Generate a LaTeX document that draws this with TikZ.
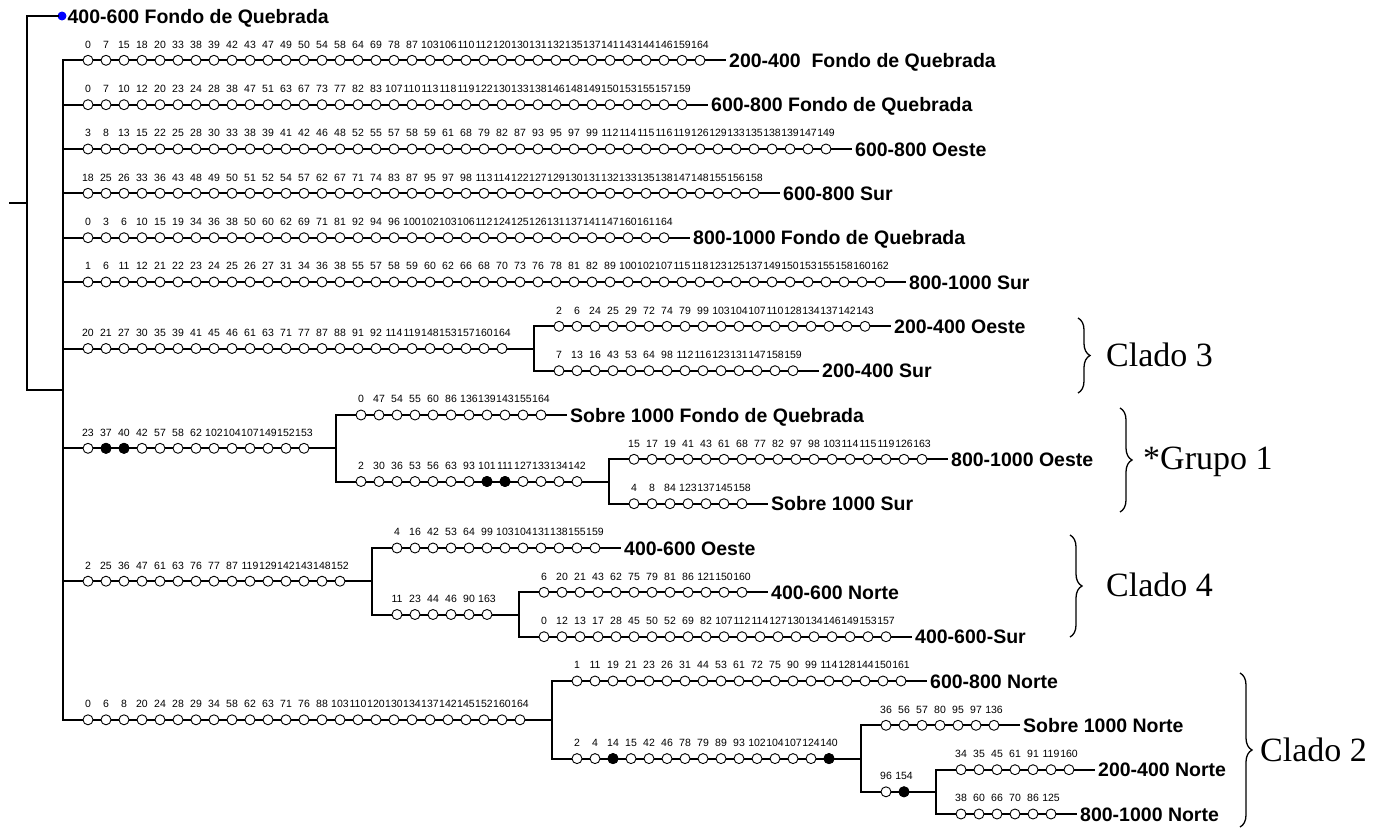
\documentclass[tikz,border=0pt]{standalone}
\usepackage{fontspec}
\setmainfont{Liberation Serif}
\newfontfamily\taxfont{Liberation Sans}
\usetikzlibrary{backgrounds,decorations.pathreplacing}

\tikzset{
	dot/.style={circle, draw, fill=white, line width=0.9pt, minimum size=10pt, inner sep=0pt},
	dotf/.style={dot, fill=black},
	num/.style={font=\taxfont\fontsize{10.5}{12}\selectfont, inner sep=0pt, text height=7.6pt, text depth=0pt},
	tax/.style={font=\taxfont\bfseries\fontsize{19.5}{22}\selectfont, anchor=west, inner sep=0pt, inner xsep=4pt, text height=14pt, text depth=0pt},
	branch/.style={line width=2pt, line cap=rect},
	clado/.style={font=\fontsize{34}{37}\selectfont, anchor=west, inner sep=0pt},
	curly/.style={decorate, decoration={brace, amplitude=12pt}, line width=1.3pt}
}

\newcommand{\dotrow}[3]{%
	\foreach \v [count=\i] in {#3} {
		\node[dot] (#1-\i) at ([xshift={(7+18*\i)*1pt}]#2) {};
		\node[num] (#1-\i n) at ([yshift=16pt]#1-\i) {\v};
		\xdef\lastdot{\i}
	}
}
\newcommand{\leafrow}[4]{%
	\dotrow{#1}{#2}{#3}
	\node[tax] (#1) at ([xshift=25pt]#1-\lastdot) {#4};
	\begin{scope}[on background layer]
		\draw[branch] (#2) -- (#1.west);
	\end{scope}
}
\newcommand{\branchrow}[3]{%
	\dotrow{#1}{#2}{#3}
	\coordinate (#1e) at ([xshift=32pt]#1-\lastdot);
	\begin{scope}[on background layer]
		\draw[branch] (#2) -- (#1e);
	\end{scope}
}

\begin{document}
\begin{tikzpicture}[x=1pt, y=-1pt]
	\useasboundingbox (0,0) rectangle (1381,830);

	\coordinate (rstub) at (10,203);
	\coordinate (root) at (27,203);
	\coordinate (main) at (63,390);
	\node[dot, fill=blue, draw=blue, minimum size=8pt] (q0) at (62,16) {};
	\node[tax, inner xsep=1pt] (t0) at (q0.east) {400-600 Fondo de Quebrada};
	\coordinate (rtop) at (root |- q0);
	\draw[branch] (rstub) -- (root);
	\draw[branch] (q0) -- (rtop) -- (root |- main) -- (main);

	\coordinate (t1s) at (main |- 0,60.3);
	\coordinate (t2s) at (main |- 0,104.7);
	\coordinate (t3s) at (main |- 0,149);
	\coordinate (t4s) at (main |- 0,193.3);
	\coordinate (t5s) at (main |- 0,237.7);
	\coordinate (t6s) at (main |- 0,282);
	\coordinate (c3s) at (main |- 0,348.5);
	\coordinate (g1s) at (main |- 0,448.3);
	\coordinate (c4s) at (main |- 0,581.2);
	\coordinate (c2s) at (main |- 0,719.8);
	\draw[branch] (t1s) -- (c2s);

	\leafrow{t1}{t1s}{0,7,15,18,20,33,38,39,42,43,47,49,50,54,58,64,69,78,87,103,106,110,112,120,130,131,132,135,137,141,143,144,146,159,164}{200-400\ \ Fondo de Quebrada}
	\leafrow{t2}{t2s}{0,7,10,12,20,23,24,28,38,47,51,63,67,73,77,82,83,107,110,113,118,119,122,130,133,138,146,148,149,150,153,155,157,159}{600-800 Fondo de Quebrada}
	\leafrow{t3}{t3s}{3,8,13,15,22,25,28,30,33,38,39,41,42,46,48,52,55,57,58,59,61,68,79,82,87,93,95,97,99,112,114,115,116,119,126,129,133,135,138,139,147,149}{600-800 Oeste}
	\leafrow{t4}{t4s}{18,25,26,33,36,43,48,49,50,51,52,54,57,62,67,71,74,83,87,95,97,98,113,114,122,127,129,130,131,132,133,135,138,147,148,155,156,158}{600-800 Sur}
	\leafrow{t5}{t5s}{0,3,6,10,15,19,34,36,38,50,60,62,69,71,81,92,94,96,100,102,103,106,112,124,125,126,131,137,141,147,160,161,164}{800-1000 Fondo de Quebrada}
	\leafrow{t6}{t6s}{1,6,11,12,21,22,23,24,25,26,27,31,34,36,38,55,57,58,59,60,62,66,68,70,73,76,78,81,82,89,100,102,107,115,118,123,125,137,149,150,153,155,158,160,162}{800-1000 Sur}

	\branchrow{c3}{c3s}{20,21,27,30,35,39,41,45,46,61,63,71,77,87,88,91,92,114,119,148,153,157,160,164}
	\coordinate (t7s) at (c3e |- 0,326.3);
	\coordinate (t8s) at (c3e |- 0,370.7);
	\leafrow{t7}{t7s}{2,6,24,25,29,72,74,79,99,103,104,107,110,128,134,137,142,143}{200-400 Oeste}
	\leafrow{t8}{t8s}{7,13,16,43,53,64,98,112,116,123,131,147,158,159}{200-400 Sur}
	\draw[branch] (t7s) -- (t8s);

	\branchrow{g1}{g1s}{23,37,40,42,57,58,62,102,104,107,149,152,153}
	\coordinate (t9s) at (g1e |- 0,415);
	\coordinate (g2s) at (g1e |- 0,481.5);
	\leafrow{t9}{t9s}{0,47,54,55,60,86,136,139,143,155,164}{Sobre 1000 Fondo de Quebrada}
	\branchrow{g2}{g2s}{2,30,36,53,56,63,93,101,111,127,133,134,142}
	\coordinate (t10s) at (g2e |- 0,459.3);
	\coordinate (t11s) at (g2e |- 0,503.7);
	\leafrow{t10}{t10s}{15,17,19,41,43,61,68,77,82,97,98,103,114,115,119,126,163}{800-1000 Oeste}
	\leafrow{t11}{t11s}{4,8,84,123,137,145,158}{Sobre 1000 Sur}
	\draw[branch] (t9s) -- (g2s);
	\draw[branch] (t10s) -- (t11s);

	\branchrow{c4}{c4s}{2,25,36,47,61,63,76,77,87,119,129,142,143,148,152}
	\coordinate (t12s) at (c4e |- 0,548);
	\coordinate (c5s) at (c4e |- 0,614.5);
	\leafrow{t12}{t12s}{4,16,42,53,64,99,103,104,131,138,155,159}{400-600 Oeste}
	\branchrow{c5}{c5s}{11,23,44,46,90,163}
	\coordinate (t13s) at (c5e |- 0,592.3);
	\coordinate (t14s) at (c5e |- 0,636.7);
	\leafrow{t13}{t13s}{6,20,21,43,62,75,79,81,86,121,150,160}{400-600 Norte}
	\leafrow{t14}{t14s}{0,12,13,17,28,45,50,52,69,82,107,112,114,127,130,134,146,149,153,157}{400-600-Sur}
	\draw[branch] (t12s) -- (c5s);
	\draw[branch] (t13s) -- (t14s);

	\branchrow{c2}{c2s}{0,6,8,20,24,28,29,34,58,62,63,71,76,88,103,110,120,130,134,137,142,145,152,160,164}
	\coordinate (t15s) at (c2e |- 0,681);
	\coordinate (c6s) at (c2e |- 0,758.6);
	\leafrow{t15}{t15s}{1,11,19,21,23,26,31,44,53,61,72,75,90,99,114,128,144,150,161}{600-800 Norte}
	\branchrow{c6}{c6s}{2,4,14,15,42,46,78,79,89,93,102,104,107,124,140}
	\coordinate (t16s) at (c6e |- 0,725.3);
	\coordinate (c7s) at (c6e |- 0,791.8);
	\leafrow{t16}{t16s}{36,56,57,80,95,97,136}{Sobre 1000 Norte}
	\branchrow{c7}{c7s}{96,154}
	\coordinate (t17s) at (c7e |- 0,769.7);
	\coordinate (t18s) at (c7e |- 0,814);
	\leafrow{t17}{t17s}{34,35,45,61,91,119,160}{200-400 Norte}
	\leafrow{t18}{t18s}{38,60,66,70,86,125}{800-1000 Norte}
	\draw[branch] (t15s) -- (c6s);
	\draw[branch] (t16s) -- (c7s);
	\draw[branch] (t17s) -- (t18s);

	\foreach \k in {g1-2,g1-3,g2-8,g2-9,c6-3,c6-15,c7-2}
		\node[dotf] (\k-f) at (\k) {};

	\draw[curly] (1078,318) -- (1078,393);
	\node[clado] (k3) at (1106,355) {Clado 3};
	\draw[curly] (1120,408) -- (1120,512);
	\node[clado] (k1) at (1143,462) {*Grupo 1};
	\draw[curly] (1070,535) -- (1070,637);
	\node[clado] (k4) at (1106,585) {Clado 4};
	\draw[curly] (1240,673) -- (1240,827);
	\node[clado] (k2) at (1260,750) {Clado 2};
\end{tikzpicture}
\end{document}
